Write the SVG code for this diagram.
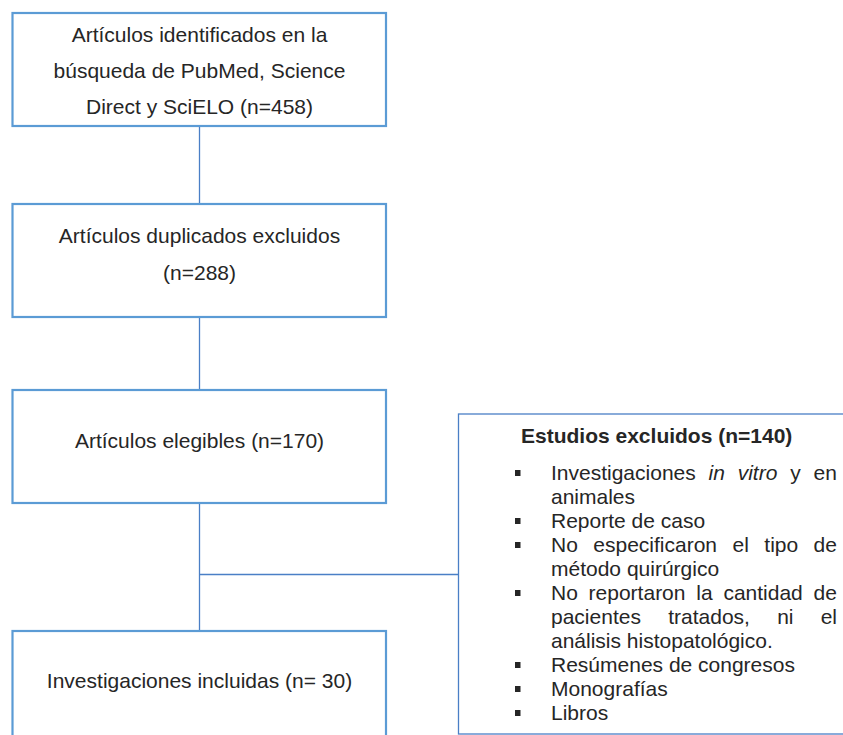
<svg xmlns="http://www.w3.org/2000/svg" width="843" height="735" viewBox="0 0 843 735">
<style>
.box{fill:#fff;stroke:#5b9bd5;stroke-width:2.2}
.rbox{fill:#fff;stroke:#4a7fc6;stroke-width:1.3}
.conn{fill:none;stroke:#4a7fc6;stroke-width:1.3}
.t{font-family:"Liberation Sans",Arial,sans-serif;font-size:21px;fill:#262626}
.c{text-anchor:middle}
.b{font-weight:bold}
.i{font-style:italic}
.bul{fill:#262626}
</style>
<rect width="843" height="735" fill="#fff"/>
<g id="connectors">
<line class="conn" x1="199.5" y1="126" x2="199.5" y2="204"/>
<line class="conn" x1="199.5" y1="317" x2="199.5" y2="390"/>
<line class="conn" x1="199.5" y1="503" x2="199.5" y2="631"/>
<line class="conn" x1="199.5" y1="574.5" x2="458.5" y2="574.5"/>
</g>
<g id="n1">
<rect class="box" x="12.5" y="13" width="373.5" height="113"/>
<text class="t c" x="199.5" y="41.6">Artículos identificados en la</text>
<text class="t c" x="199.5" y="77.9">búsqueda de PubMed, Science</text>
<text class="t c" x="199.5" y="114.2">Direct y SciELO (n=458)</text>
</g>
<g id="n2">
<rect class="box" x="12.5" y="204" width="373.5" height="113"/>
<text class="t c" x="199.5" y="243.4">Artículos duplicados excluidos</text>
<text class="t c" x="199.5" y="280">(n=288)</text>
</g>
<g id="n3">
<rect class="box" x="12.5" y="390" width="373.5" height="113"/>
<text class="t c" x="199.5" y="447.7">Artículos elegibles (n=170)</text>
</g>
<g id="n4">
<rect class="box" x="12.5" y="631" width="373.5" height="113"/>
<text class="t c" x="199.5" y="688">Investigaciones incluidas (n= 30)</text>
</g>
<g id="n5">
<rect class="rbox" x="458.5" y="414" width="400" height="320"/>
<text class="t b" x="521" y="443.3">Estudios excluidos (n=140)</text>
<rect class="bul" x="515" y="470" width="5.5" height="6"/>
<rect class="bul" x="515" y="518" width="5.5" height="6"/>
<rect class="bul" x="515" y="542" width="5.5" height="6"/>
<rect class="bul" x="515" y="590" width="5.5" height="6"/>
<rect class="bul" x="515" y="662" width="5.5" height="6"/>
<rect class="bul" x="515" y="686" width="5.5" height="6"/>
<rect class="bul" x="515" y="710" width="5.5" height="6"/>
<text class="t" y="480"><tspan x="551">Investigaciones</tspan><tspan class="i" x="708.6">in</tspan><tspan class="i" x="737.7">vitro</tspan><tspan x="790.3">y</tspan><tspan x="813.6">en</tspan></text>
<text class="t" x="551" y="504">animales</text>
<text class="t" x="551" y="528">Reporte de caso</text>
<text class="t" y="552"><tspan x="551">No</tspan><tspan x="593.3">especificaron</tspan><tspan x="732.5">el</tspan><tspan x="764.3">tipo</tspan><tspan x="813.6">de</tspan></text>
<text class="t" x="551" y="576">método quirúrgico</text>
<text class="t" y="600"><tspan x="551">No</tspan><tspan x="588.6">reportaron</tspan><tspan x="696.3">la</tspan><tspan x="723.4">cantidad</tspan><tspan x="813.6">de</tspan></text>
<text class="t" y="624"><tspan x="551">pacientes</tspan><tspan x="668.2">tratados,</tspan><tspan x="777.2">ni</tspan><tspan x="820.7">el</tspan></text>
<text class="t" x="551" y="648">análisis histopatológico.</text>
<text class="t" x="551" y="672">Resúmenes de congresos</text>
<text class="t" x="551" y="696">Monografías</text>
<text class="t" x="551" y="720">Libros</text>
</g>
</svg>
